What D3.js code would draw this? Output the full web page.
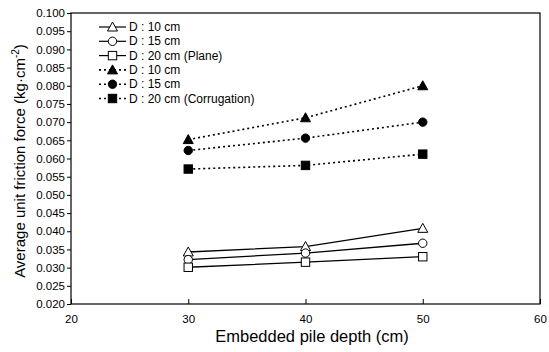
<!DOCTYPE html>
<html><head><meta charset="utf-8">
<script src="https://cdn.jsdelivr.net/npm/d3@7"></script>
<style>body{margin:0;background:#fff}svg{display:block}text{font-family:Arial,"Liberation Sans",sans-serif;fill:#000}</style>
</head><body><svg id="c" width="549" height="352"></svg>
<script>
const depths = [30, 40, 50];
const plane10 = [0.0343, 0.0358, 0.0408];
const plane15 = [0.0322, 0.0340, 0.0367];
const plane20 = [0.0301, 0.0315, 0.0330];
const corr10 = [0.0652, 0.0712, 0.0800];
const corr15 = [0.0622, 0.0656, 0.0700];
const corr20 = [0.0571, 0.0581, 0.0612];
const xTicks = [20, 30, 40, 50, 60];
const yTicks = [0.020,0.025,0.030,0.035,0.040,0.045,0.050,0.055,0.060,0.065,0.070,0.075,0.080,0.085,0.090,0.095,0.100];
const seriesNames = ["D : 10 cm","D : 15 cm","D : 20 cm (Plane)","D : 10 cm","D : 15 cm","D : 20 cm (Corrugation)"];
const shapes = ["tri","circ","sq","tri","circ","sq"];
const seriesValues = [plane10, plane15, plane20, corr10, corr15, corr20];

const svg = d3.select("#c");
const L=71, R=540, T=13, B=304;
const x = d3.scaleLinear().domain([20,60]).range([L,R]);
const y = d3.scaleLinear().domain([0.020,0.100]).range([B,T]);

// frame
svg.append("rect").attr("x",L).attr("y",T).attr("width",R-L).attr("height",B-T)
  .attr("fill","none").attr("stroke","#000").attr("stroke-width",1.2);

// y axis
const ya = svg.append("g").attr("transform",`translate(${L},0)`)
  .call(d3.axisLeft(y).tickValues(yTicks).tickSize(4).tickFormat(d3.format(".3f")));
ya.select(".domain").remove();
ya.selectAll("line").attr("stroke","#000").attr("stroke-width",1);
ya.selectAll("text").style("font-size","11.5px").attr("x",-6);

// x axis (ticks inward)
const xa = svg.append("g").attr("transform",`translate(0,${B})`)
  .call(d3.axisBottom(x).tickValues(xTicks).tickSize(-5).tickFormat(d3.format("d")));
xa.select(".domain").remove();
xa.selectAll("line").attr("stroke","#000");
xa.selectAll("text").style("font-size","11.5px").attr("y",11);

// titles
svg.append("text").attr("x",312).attr("y",342).attr("text-anchor","middle")
  .style("font-size","16.5px").text("Embedded pile depth (cm)");
const yt = svg.append("text").attr("transform","translate(25,161) rotate(-90)")
  .attr("text-anchor","middle").style("font-size","15px");
yt.append("tspan").text("Average unit friction force (kg·cm");
yt.append("tspan").attr("dy",-6).style("font-size","10px").text("-2");
yt.append("tspan").attr("dy",6).text(")");

function marker(g, shape, cx, cy, filled){
  const f = filled ? "#000" : "#fff";
  if(shape==="tri"){
    const s=5;
    g.append("path").attr("d",`M${cx},${cy-s}L${cx+s},${cy+s*0.8}L${cx-s},${cy+s*0.8}Z`)
      .attr("fill",f).attr("stroke","#000").attr("stroke-width",1);
  } else if(shape==="circ"){
    g.append("circle").attr("cx",cx).attr("cy",cy).attr("r",4.2)
      .attr("fill",f).attr("stroke","#000").attr("stroke-width",1);
  } else {
    g.append("rect").attr("x",cx-4.2).attr("y",cy-4.2).attr("width",8.4).attr("height",8.4)
      .attr("fill",f).attr("stroke","#000").attr("stroke-width",1);
  }
}

const line = d3.line().x((d,i)=>x(depths[i])).y(d=>y(d));
seriesValues.forEach((vals,k)=>{
  const filled = k>=3;
  svg.append("path").datum(vals).attr("d",line).attr("fill","none")
    .attr("stroke","#000").attr("stroke-width",filled?1.6:1.3)
    .attr("stroke-dasharray",filled?"2,3":null);
});
seriesValues.forEach((vals,k)=>{
  const g = svg.append("g");
  vals.forEach((v,i)=>marker(g, shapes[k], x(depths[i]), y(v), k>=3));
});

// legend
const lg = svg.append("g");
seriesNames.forEach((name,k)=>{
  const yy = 27 + k*14.3;
  const filled = k>=3;
  lg.append("line").attr("x1",99).attr("x2",126).attr("y1",yy).attr("y2",yy)
    .attr("stroke","#000").attr("stroke-width",filled?1.6:1.2)
    .attr("stroke-dasharray",filled?"2,3":null);
  const g = lg.append("g");
  marker(g, shapes[k], 112.5, yy, filled);
  lg.append("text").attr("x",129).attr("y",yy+4).style("font-size","12px").text(name);
});
</script></body></html>
